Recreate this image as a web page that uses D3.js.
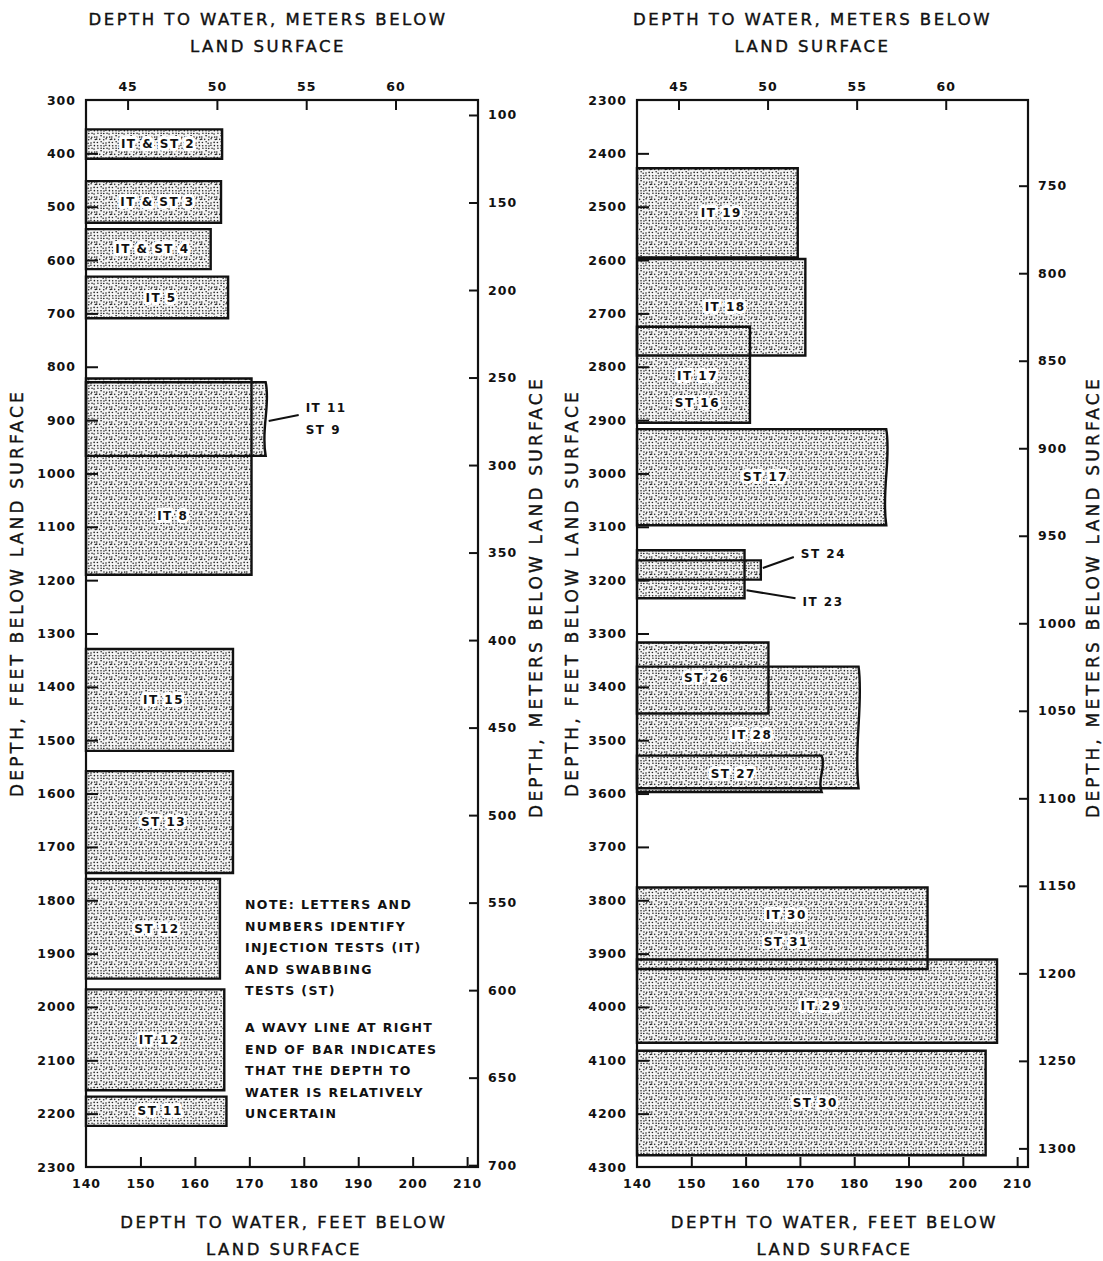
<!DOCTYPE html>
<html>
<head>
<meta charset="utf-8">
<script src="https://cdn.jsdelivr.net/npm/d3@7"></script>
<style>
  body { margin: 0; background: #fff; }
  svg text { font-family: 'DejaVu Sans', sans-serif; fill: #111; }
</style>
</head>
<body>
<svg id="chart" width="1103" height="1261"></svg>
<script>
// left panel: depth intervals (ft) and depth to water (ft)
const leftLabels = ['IT & ST 2', 'IT & ST 3', 'IT & ST 4', 'IT 5', 'IT 8', 'IT 11|ST 9',
  'IT 15', 'ST 13', 'ST 12', 'IT 12', 'ST 11'];
const leftTops = [355, 452, 542, 631, 822, 829, 1329, 1558, 1760, 1967, 2168];
const leftBottoms = [410, 530, 617, 709, 1190, 967, 1520, 1749, 1947, 2156, 2223];
const leftWater = [165.0, 164.8, 162.9, 166.1, 170.4, 173.0, 167.0, 167.0, 164.6, 165.4, 165.8];
const leftUncertain = [false, false, false, false, false, true, false, false, false, false, false];

// right panel
const rightLabels = ['IT 19', 'IT 17|ST 16', 'IT 18', 'ST 17', 'IT 23', 'ST 24',
  'IT 28', 'ST 26', 'ST 27', 'IT 29', 'IT 30|ST 31', 'ST 30'];
const rightTops = [2428, 2725, 2598, 2917, 3144, 3163, 3362, 3317, 3529, 3911, 3776, 4082];
const rightBottoms = [2595, 2905, 2779, 3097, 3234, 3199, 3590, 3450, 3597, 4067, 3929, 4278];
const rightWater = [169.6, 160.8, 171.0, 185.9, 159.8, 162.8, 180.8, 164.2, 174.0, 206.3, 193.5, 204.2];
const rightUncertain = [false, false, false, true, false, false, true, false, true, false, false, false];

// axes
const waterDomain = [140, 212];
const waterTicks = [140, 150, 160, 170, 180, 190, 200, 210];
const waterMeterTicks = [45, 50, 55, 60];
const leftDepthDomain = [300, 2300];
const rightDepthDomain = [2300, 4300];
const leftMeterTicks = d3.range(100, 701, 50);
const rightMeterTicks = d3.range(750, 1301, 50);

const noteLines = ['NOTE: LETTERS AND', 'NUMBERS IDENTIFY', 'INJECTION TESTS (IT)', 'AND SWABBING',
  'TESTS (ST)', '', 'A WAVY LINE AT RIGHT', 'END OF BAR INDICATES', 'THAT THE DEPTH TO',
  'WATER IS RELATIVELY', 'UNCERTAIN'];

const FT2M = 0.3048;
const svg = d3.select('#chart');
const plotTop = 100, plotBottom = 1167;

// stipple texture: jittered grid of dots
const defs = svg.append('defs');
const tile = 15;
const pat = defs.append('pattern')
  .attr('id', 'stip').attr('patternUnits', 'userSpaceOnUse')
  .attr('width', tile).attr('height', tile);
pat.append('rect').attr('width', tile).attr('height', tile).attr('fill', '#f4f4f4');
let seed = 11;
const next = () => { seed = (seed * 9301 + 49297) % 233280; return seed / 233280; };
for (let gx = 0; gx < 5; gx++) {
  for (let gy = 0; gy < 5; gy++) {
    pat.append('circle')
      .attr('cx', gx * 3 + 1.5 + (next() - 0.5) * 1.8)
      .attr('cy', gy * 3 + 1.5 + (next() - 0.5) * 1.8)
      .attr('r', 0.8).attr('fill', '#222');
  }
}

const callouts = {
  'IT 11|ST 9': { tx: 40, ty: 0, lx0: 3, ly0: 2, lx1: 33, ly1: -4, gap: 22 },
  'ST 24': { tx: 40, ty: -16, lx0: 2, ly0: -2, lx1: 33, ly1: -13, gap: 22 },
  'IT 23': { tx: 58, ty: 28, lx0: 2, ly0: 16, lx1: 51, ly1: 24, gap: 22 }
};

function panel(cfg) {
  const x = d3.scaleLinear().domain(waterDomain).range([cfg.x0, cfg.x1]);
  const xm = d3.scaleLinear().domain(waterDomain.map(v => v * FT2M)).range([cfg.x0, cfg.x1]);
  const y = d3.scaleLinear().domain(cfg.depthDomain).range([plotTop, plotBottom]);
  const ym = d3.scaleLinear().domain(cfg.depthDomain.map(v => v * FT2M)).range([plotTop, plotBottom]);
  const g = svg.append('g');

  const bars = cfg.labels.map((l, i) => ({
    label: l, top: cfg.tops[i], bottom: cfg.bottoms[i], water: cfg.water[i], wavy: cfg.uncertain[i], i
  }));

  const barPath = d => {
    const x0 = x(140), x1 = x(d.water), y0 = y(d.top), y1 = y(d.bottom);
    if (!d.wavy) return `M${x0},${y0}H${x1}V${y1}H${x0}Z`;
    const h = y1 - y0;
    return `M${x0},${y0}H${x1}C${x1 + 5},${y0 + h * 0.3} ${x1 - 5},${y0 + h * 0.65} ${x1},${y1}H${x0}Z`;
  };

  g.selectAll('.fill').data(bars).enter().append('path')
    .attr('class', 'fill').attr('d', barPath).attr('fill', 'url(#stip)');
  g.selectAll('.edge').data(bars).enter().append('path')
    .attr('class', 'edge').attr('d', barPath)
    .attr('fill', 'none').attr('stroke', '#111').attr('stroke-width', 2.4);

  // frame
  g.append('rect').attr('x', cfg.x0).attr('y', plotTop)
    .attr('width', cfg.x1 - cfg.x0).attr('height', plotBottom - plotTop)
    .attr('fill', 'none').attr('stroke', '#111').attr('stroke-width', 2.2);

  const styleAxis = (sel) => {
    sel.select('.domain').remove();
    sel.selectAll('.tick line').attr('stroke', '#111').attr('stroke-width', 2);
    sel.selectAll('.tick text').style('font-size', '12.5px').style('font-weight', 'bold')
      .style('letter-spacing', '1px').attr('fill', '#111');
  };

  g.append('g').attr('transform', `translate(${cfg.x0},0)`)
    .call(d3.axisLeft(y).tickValues(d3.range(cfg.depthDomain[0], cfg.depthDomain[1] + 1, 100))
      .tickSize(-12).tickPadding(10).tickFormat(d3.format('d')))
    .call(styleAxis)
    .call(s => s.selectAll('.tick line').filter(d => d === cfg.depthDomain[0] || d === cfg.depthDomain[1]).remove());

  g.append('g').attr('transform', `translate(${cfg.x1},0)`)
    .call(d3.axisRight(ym).tickValues(cfg.meterTicks).tickSize(-9).tickPadding(10).tickFormat(d3.format('d')))
    .call(styleAxis);

  g.append('g').attr('transform', `translate(0,${plotBottom})`)
    .call(d3.axisBottom(x).tickValues(waterTicks).tickSize(-10).tickPadding(12))
    .call(styleAxis)
    .call(s => s.selectAll('.tick line').filter(d => d === 140).remove());

  g.append('g').attr('transform', `translate(0,${plotTop})`)
    .call(d3.axisTop(xm).tickValues(waterMeterTicks).tickSize(-10).tickPadding(9))
    .call(styleAxis);

  // bar labels: centre of the longest span not hidden by a later bar
  bars.forEach(d => {
    let segs = [[d.top, d.bottom]];
    bars.filter(o => o.i > d.i).forEach(o => {
      segs = segs.flatMap(([a, b]) => {
        if (o.bottom <= a || o.top >= b) return [[a, b]];
        const out = [];
        if (o.top > a) out.push([a, o.top]);
        if (o.bottom < b) out.push([o.bottom, b]);
        return out;
      });
    });
    const best = segs.sort((p, q) => (q[1] - q[0]) - (p[1] - p[0]))[0] || [d.top, d.bottom];
    const lines = d.label.split('|');
    const co = callouts[d.label];
    let cx, cy, anchor, gap;
    if (co) {
      const yc = y((d.top + d.bottom) / 2);
      const xr = x(d.water);
      g.append('line').attr('x1', xr + co.lx0).attr('y1', yc + co.ly0)
        .attr('x2', xr + co.lx1).attr('y2', yc + co.ly1)
        .attr('stroke', '#111').attr('stroke-width', 2);
      cx = xr + co.tx; cy = yc + co.ty; anchor = 'start'; gap = co.gap;
    } else {
      cx = (x(140) + x(d.water)) / 2 + 4; cy = y((best[0] + best[1]) / 2); anchor = 'middle'; gap = 27;
    }
    lines.forEach((t, k) => {
      g.append('text').attr('x', cx).attr('y', cy + (k - (lines.length - 1) / 2) * gap)
        .attr('dy', '0.35em').attr('text-anchor', anchor)
        .style('font-size', '12px').style('font-weight', 'bold').style('letter-spacing', '1.5px')
        .style('paint-order', 'stroke').attr('stroke', co ? 'none' : '#fff')
        .attr('stroke-width', 6).attr('stroke-linejoin', 'round')
        .text(t);
    });
  });

  // titles
  const mid = (cfg.x0 + cfg.x1) / 2;
  const title = (txt, tx, ty, rot) => {
    const t = g.append('text').attr('text-anchor', 'middle')
      .style('font-size', '16.5px').style('letter-spacing', '2.5px')
      .attr('stroke', '#111').attr('stroke-width', 0.4)
      .text(txt);
    if (rot) t.attr('transform', `translate(${tx},${ty}) rotate(-90)`).style('font-size', '17px').style('letter-spacing', '3.2px');
    else t.attr('x', tx).attr('y', ty);
  };
  title('DEPTH TO WATER, METERS BELOW', mid + cfg.titleShift, 25);
  title('LAND SURFACE', mid + cfg.titleShift, 52);
  title('DEPTH TO WATER, FEET BELOW', mid + 2, 1228);
  title('LAND SURFACE', mid + 2, 1255);
  title('DEPTH, FEET BELOW LAND SURFACE', cfg.x0 - cfg.leftTitle, 593, true);
  title('DEPTH, METERS BELOW LAND SURFACE', cfg.x1 + cfg.rightTitle, 597, true);
}

panel({
  x0: 86, x1: 478, depthDomain: leftDepthDomain, meterTicks: leftMeterTicks,
  labels: leftLabels, tops: leftTops, bottoms: leftBottoms, water: leftWater, uncertain: leftUncertain,
  titleShift: -14, leftTitle: 63, rightTitle: 64
});
panel({
  x0: 637, x1: 1028, depthDomain: rightDepthDomain, meterTicks: rightMeterTicks,
  labels: rightLabels, tops: rightTops, bottoms: rightBottoms, water: rightWater, uncertain: rightUncertain,
  titleShift: -20, leftTitle: 59, rightTitle: 71
});

// note
svg.append('g').selectAll('text').data(noteLines).enter().append('text')
  .attr('x', 245).attr('y', (d, i) => 909 + i * 21.5 + (i > 5 ? -6 : 0))
  .style('font-size', '12.5px').style('font-weight', 'bold').style('letter-spacing', '1.4px')
  .text(d => d);
</script>
</body>
</html>
